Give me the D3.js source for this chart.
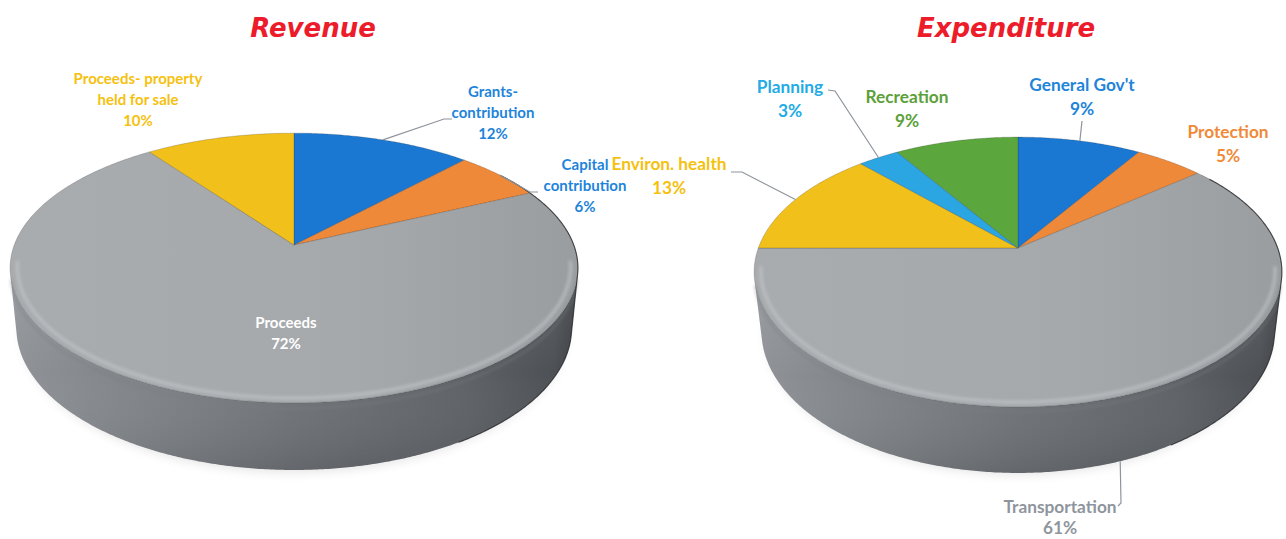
<!DOCTYPE html>
<html>
<head>
<meta charset="utf-8">
<script src="https://cdn.jsdelivr.net/npm/d3@7"></script>
<style>
  html, body { margin: 0; padding: 0; background: #ffffff; }
  svg { display: block; }
</style>
</head>
<body>
<svg id="chart" width="1286" height="539"></svg>
<script>
// ---- data ----
const chartTitles = ["Revenue", "Expenditure"];

const revenueCategories = ["Grants-\ncontribution", "Capital\ncontribution", "Proceeds", "Proceeds- property\nheld for sale"];
const revenueValues = [12, 6, 72, 10];

const expenditureCategories = ["General Gov't", "Protection", "Transportation", "Environ. health", "Planning", "Recreation"];
const expenditureValues = [9, 5, 61, 13, 3, 9];

// ---- styling / layout ----
const sliceColors = {
  blue: "#1b78d2", orange: "#ef893a", grey: "#a5a8ac",
  yellow: "#f2c01a", green: "#5ba63d", sky: "#2ba6e3"
};
const revenueFills = [sliceColors.blue, sliceColors.orange, sliceColors.grey, sliceColors.yellow];
const expenditureFills = [sliceColors.blue, sliceColors.orange, sliceColors.grey, sliceColors.yellow, sliceColors.sky, sliceColors.green];

const pies = [
  {
    title: chartTitles[0], titleX: 313,
    categories: revenueCategories, values: revenueValues, fills: revenueFills,
    cx: 294, cy: 245, tilt: 27.9 * Math.PI / 180, dist: 5.19, focal: 1452, depth: 0.2456,
    fontSize: 15, lineStep: 21,
    labels: [
      { x: 493, y: 92, color: "#1e84da", leader: [[444, 119], [452, 119]] },
      { x: 585, y: 165, color: "#1e84da", leader: [[530, 192], [538, 192]] },
      { x: 286, y: 323, color: "#ffffff" },
      { x: 138, y: 79, color: "#f5c10f" }
    ]
  },
  {
    title: chartTitles[1], titleX: 1006,
    categories: expenditureCategories, values: expenditureValues, fills: expenditureFills,
    cx: 1018, cy: 248, tilt: 30.2 * Math.PI / 180, dist: 4.86, focal: 1262, depth: 0.27,
    fontSize: 17.3, lineStep: 24,
    labels: [
      { x: 1082, y: 85, color: "#1e84da", leader: [[1082, 121]] },
      { x: 1228, y: 132, color: "#f08a38" },
      { x: 1060, y: 507, color: "#8f959d", leader: [[1121, 503], [1118, 506]], bottom: true, step: 21 },
      { x: 669, y: 164, color: "#f5c10f", leader: [[742, 172], [731, 172]] },
      { x: 790, y: 87, color: "#23abe6", leader: [[835, 91], [828, 90]] },
      { x: 907, y: 97, color: "#5ca03a" }
    ]
  }
];

const svg = d3.select("#chart");
const defs = svg.append("defs");

defs.append("filter").attr("id", "soft").attr("x", "-20%").attr("y", "-20%").attr("width", "140%").attr("height", "140%")
  .append("feGaussianBlur").attr("stdDeviation", 6);
defs.append("filter").attr("id", "glow").attr("x", "-10%").attr("y", "-10%").attr("width", "120%").attr("height", "120%")
  .append("feGaussianBlur").attr("stdDeviation", 1.8);

// vertical shading on the side wall: lighter under the bevel, darker at the foot
const shade = defs.append("linearGradient").attr("id", "sideShade")
  .attr("x1", 0).attr("x2", 0).attr("y1", 0).attr("y2", 1);
[[0, "rgba(255,255,255,0.10)"], [0.5, "rgba(255,255,255,0)"], [1, "rgba(0,0,0,0.10)"]]
  .forEach(([o, c]) => shade.append("stop").attr("offset", o).attr("stop-color", c));

// perspective projection of a unit-radius disc; theta clockwise from 12 o'clock,
// r = radius fraction, h = height (0 = top face, negative = below)
function makeProjection(p) {
  const k = Math.cos(p.tilt), s = Math.sin(p.tilt);
  return (theta, r, h) => {
    const x = r * Math.sin(theta), z = -r * Math.cos(theta);
    const d = p.dist - (h * s + z * k);
    const v = h * k - z * s;
    return [p.cx + p.focal * x / d, p.cy - p.focal * v / d];
  };
}

function arcPoints(proj, a0, a1, r, h) {
  const n = Math.max(2, Math.ceil(Math.abs(a1 - a0) / (Math.PI / 360)));
  return d3.range(n + 1).map(i => proj(a0 + (a1 - a0) * i / n, r, h));
}

const closedLine = d3.line().curve(d3.curveLinearClosed);
const openLine = d3.line();
const pieLayout = d3.pie().sort(null).value(d => d);
const pct = d => d + "%";

pies.forEach((p, pi) => {
  const proj = makeProjection(p);
  const g = svg.append("g");
  const arcs = pieLayout(p.values);
  const k = Math.cos(p.tilt);
  const ta = Math.acos(-1 / (p.dist * k));   // silhouette generators of the side wall
  const tb = 2 * Math.PI - ta;
  const left = proj(3 * Math.PI / 2, 1, 0)[0] - 10, right = proj(Math.PI / 2, 1, 0)[0] + 10;

  // horizontal gradients for the side wall and the grey top
  const sideId = "side" + pi;
  const sg = defs.append("linearGradient").attr("id", sideId)
    .attr("gradientUnits", "userSpaceOnUse").attr("x1", left).attr("x2", right).attr("y1", 0).attr("y2", 0);
  [[0, "#909498"], [0.2, "#82868a"], [0.5, "#6f7378"], [0.8, "#5e6266"], [0.95, "#4d5054"], [1, "#36393d"]]
    .forEach(([o, c]) => sg.append("stop").attr("offset", o).attr("stop-color", c));
  const topId = "top" + pi;
  const tg = defs.append("linearGradient").attr("id", topId)
    .attr("gradientUnits", "userSpaceOnUse").attr("x1", left).attr("x2", right).attr("y1", 0).attr("y2", 0);
  [[0, "#a9acaf"], [0.6, "#a6a9ac"], [1, "#9a9da0"]]
    .forEach(([o, c]) => tg.append("stop").attr("offset", o).attr("stop-color", c));

  // soft floor shadow
  g.append("path")
    .attr("d", closedLine(arcPoints(proj, 0, 2 * Math.PI, 0.98, -p.depth - 0.02)))
    .attr("fill", "#000").attr("opacity", 0.12).attr("filter", "url(#soft)");

  // side wall
  const sidePts = arcPoints(proj, ta, tb, 1, 0).concat(arcPoints(proj, tb, ta, 1, -p.depth));
  g.append("path").attr("d", closedLine(sidePts)).attr("fill", `url(#${sideId})`);
  g.append("path").attr("d", closedLine(sidePts)).attr("fill", "url(#sideShade)");

  // top face slices
  g.selectAll("path.slice").data(arcs).join("path")
    .attr("class", "slice")
    .attr("d", a => closedLine([proj(0, 0, 0)].concat(arcPoints(proj, a.startAngle, a.endAngle, 1, 0))))
    .attr("fill", (a, i) => p.fills[i] === sliceColors.grey ? `url(#${topId})` : p.fills[i])
    .attr("stroke", "rgba(40,40,40,0.35)").attr("stroke-width", 0.6).attr("stroke-linejoin", "round");

  // rounded bevel along the front rim
  g.append("path")
    .attr("d", openLine(arcPoints(proj, ta - 0.1, tb + 0.1, 0.975, 0)))
    .attr("fill", "none").attr("stroke", "#c4c7ca").attr("stroke-width", 3.5).attr("opacity", 0.6)
    .attr("filter", "url(#glow)");
  g.append("path")
    .attr("d", openLine(arcPoints(proj, ta, tb, 1, -0.02)))
    .attr("fill", "none").attr("stroke", "#7a7e82").attr("stroke-width", 2).attr("opacity", 0.45)
    .attr("filter", "url(#glow)");

  // dark outline down the right-hand edge
  const edge = arcPoints(proj, 0.95, ta, 1, 0).concat(arcPoints(proj, ta, 2.6, 1, -p.depth));
  g.append("path").attr("d", openLine(edge))
    .attr("fill", "none").attr("stroke", "#1d1f22").attr("stroke-width", 1.1).attr("opacity", 0.75);

  // leader lines
  arcs.forEach((a, i) => {
    const lab = p.labels[i];
    if (!lab.leader) return;
    const mid = (a.startAngle + a.endAngle) / 2;
    const start = lab.bottom ? proj(mid, 1, -p.depth) : proj(mid, 1, 0);
    g.append("path").attr("d", openLine([start].concat(lab.leader)))
      .attr("fill", "none").attr("stroke", "#8e949b").attr("stroke-width", 1.2);
  });

  // data labels
  arcs.forEach((a, i) => {
    const lab = p.labels[i];
    const lines = p.categories[i].split("\n").concat([pct(p.values[i])]);
    const step = lab.step || p.lineStep;
    const t = g.append("text")
      .attr("text-anchor", "middle")
      .attr("font-family", "Lato, 'Open Sans', sans-serif")
      .attr("font-weight", 700).attr("font-size", p.fontSize)
      .attr("fill", lab.color);
    lines.forEach((ln, j) => {
      t.append("tspan").attr("x", lab.x).attr("y", lab.y + p.fontSize * 0.36 + j * step).text(ln);
    });
  });

  // title
  svg.append("text")
    .attr("x", p.titleX).attr("y", 37)
    .attr("text-anchor", "middle")
    .attr("font-family", "'DejaVu Sans', sans-serif")
    .attr("font-weight", "bold").attr("font-style", "italic").attr("font-size", 26)
    .attr("fill", "#ec1c2a")
    .text(p.title);
});
</script>
</body>
</html>
